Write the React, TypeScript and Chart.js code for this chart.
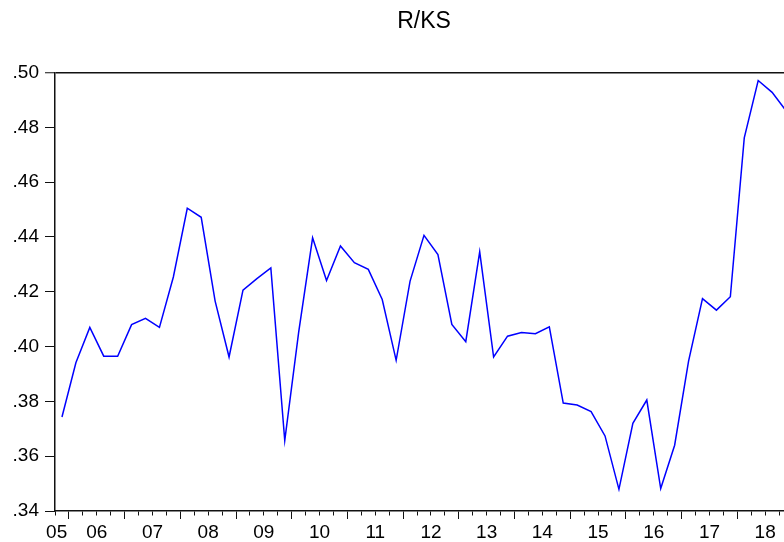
import React, { useEffect, useRef } from 'react';
import { Chart, registerables } from 'chart.js';

Chart.register(...registerables);

const TITLE = 'R/KS';

// Quarterly periods, 2005Q4 .. 2018Q4
const PERIODS = [
  '2005Q4',
  '2006Q1', '2006Q2', '2006Q3', '2006Q4',
  '2007Q1', '2007Q2', '2007Q3', '2007Q4',
  '2008Q1', '2008Q2', '2008Q3', '2008Q4',
  '2009Q1', '2009Q2', '2009Q3', '2009Q4',
  '2010Q1', '2010Q2', '2010Q3', '2010Q4',
  '2011Q1', '2011Q2', '2011Q3', '2011Q4',
  '2012Q1', '2012Q2', '2012Q3', '2012Q4',
  '2013Q1', '2013Q2', '2013Q3', '2013Q4',
  '2014Q1', '2014Q2', '2014Q3', '2014Q4',
  '2015Q1', '2015Q2', '2015Q3', '2015Q4',
  '2016Q1', '2016Q2', '2016Q3', '2016Q4',
  '2017Q1', '2017Q2', '2017Q3', '2017Q4',
  '2018Q1', '2018Q2', '2018Q3', '2018Q4',
];

const R_KS = [
  0.3743,
  0.3941, 0.4070, 0.3965, 0.3965,
  0.4080, 0.4103, 0.4070, 0.4254,
  0.4505, 0.4472, 0.4166, 0.3962,
  0.4206, 0.4248, 0.4287, 0.3657,
  0.4053, 0.4397, 0.4241, 0.4367,
  0.4306, 0.4282, 0.4172, 0.3950,
  0.4239, 0.4406, 0.4336, 0.4081,
  0.4018, 0.4346, 0.3962, 0.4038,
  0.4051, 0.4047, 0.4072, 0.3794,
  0.3787, 0.3763, 0.3674, 0.3479,
  0.3720, 0.3805, 0.3482, 0.3640,
  0.3947, 0.4175, 0.4133, 0.4182,
  0.4762, 0.4971, 0.4928, 0.4861,
];

const YEAR_LABELS = ['05', '06', '07', '08', '09', '10', '11', '12', '13', '14', '15', '16', '17', '18'];

const Y_TICKS = [0.34, 0.36, 0.38, 0.40, 0.42, 0.44, 0.46, 0.48, 0.50];

const FONT = '"Liberation Sans", Arial, Helvetica, sans-serif';
const AXIS_COLOR = '#111';

export default function App() {
  const ref = useRef<HTMLCanvasElement | null>(null);

  useEffect(() => {
    const canvas = ref.current;
    if (!canvas) return;

    // x in quarter units: 0 = start of 2005Q4, 1 = start of 2006Q1, ...
    const labelAt = new Map<number, string>();
    const FIRST_LABEL_POS = 0.12;
    labelAt.set(FIRST_LABEL_POS, YEAR_LABELS[0]);
    for (let k = 1; k < YEAR_LABELS.length; k++) {
      labelAt.set(1 + 4 * (k - 1) + 2, YEAR_LABELS[k]);
    }
    const isMajor = (v: number) => Number.isInteger(v) && v >= 1 && (v - 1) % 4 === 0;
    const isLabelOnly = (v: number) => !Number.isInteger(v);

    const chart = new Chart(canvas, {
      type: 'line',
      data: {
        datasets: [
          {
            label: TITLE,
            data: R_KS.map((v, i) => ({ x: i + 0.5, y: v })),
            borderColor: '#0000ff',
            borderWidth: 1.5,
            pointRadius: 0,
            tension: 0,
            fill: false,
          },
        ],
      },
      options: {
        animation: false,
        responsive: false,
        layout: { padding: { left: 0, right: 7, top: 0, bottom: 0 } },
        plugins: {
          legend: { display: false },
          tooltip: { enabled: false },
          title: {
            display: true,
            text: TITLE,
            fullSize: false,
            color: '#000',
            font: { family: FONT, size: 23, weight: 'normal' },
            padding: { top: 8, bottom: 37 },
          },
        },
        scales: {
          x: {
            type: 'linear',
            min: 0,
            max: PERIODS.length,
            offset: false,
            afterBuildTicks: (s: any) => {
              const t: { value: number }[] = [];
              for (let v = 0; v <= PERIODS.length; v++) t.push({ value: v });
              t.splice(1, 0, { value: FIRST_LABEL_POS });
              s.ticks = t;
            },
            afterFit: (s: any) => {
              s.height = 31;
            },
            grid: {
              drawOnChartArea: false,
              drawTicks: true,
              tickLength: 8,
              tickWidth: 1,
              tickColor: (c: any) =>
                c.tick && isLabelOnly(c.tick.value) ? 'rgba(0,0,0,0)' : AXIS_COLOR,
              tickBorderDash: (c: any) =>
                c.tick && isMajor(c.tick.value) ? [] : [4, 40],
            },
            border: { display: true, color: AXIS_COLOR, width: 1.5 },
            ticks: {
              autoSkip: false,
              maxRotation: 0,
              minRotation: 0,
              padding: 2,
              color: '#000',
              font: { family: FONT, size: 19 },
              callback: (v: any) => labelAt.get(Number(v)) ?? '',
            },
          },
          y: {
            type: 'linear',
            min: 0.34,
            max: 0.5,
            afterBuildTicks: (s: any) => {
              s.ticks = Y_TICKS.map((v) => ({ value: v }));
            },
            afterFit: (s: any) => {
              s.width = 55;
            },
            grid: {
              drawOnChartArea: true,
              color: (c: any) =>
                c.tick && Math.abs(c.tick.value - 0.5) < 1e-9 ? AXIS_COLOR : 'rgba(0,0,0,0)',
              lineWidth: (c: any) =>
                c.tick && Math.abs(c.tick.value - 0.5) < 1e-9 ? 1.5 : 1,
              tickColor: AXIS_COLOR,
              tickWidth: 1,
              tickLength: 10,
            },
            border: { display: true, color: AXIS_COLOR, width: 1.5 },
            ticks: {
              padding: 6,
              color: '#000',
              font: { family: FONT, size: 19 },
              callback: (v: any) => Number(v).toFixed(2).replace(/^0/, ''),
            },
          },
        },
      },
    });

    return () => chart.destroy();
  }, []);

  return (
    <div
      style={{
        position: 'fixed',
        left: 0,
        top: 0,
        width: 784,
        height: 542,
        overflow: 'hidden',
        background: '#fff',
      }}
    >
      <canvas ref={ref} width={800} height={542} style={{ display: 'block' }} />
    </div>
  );
}
